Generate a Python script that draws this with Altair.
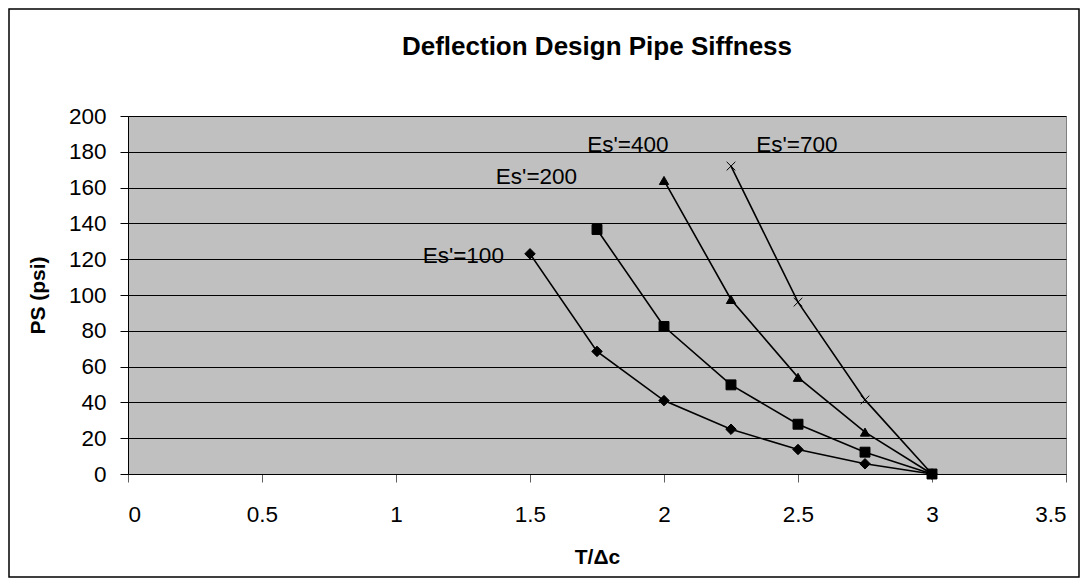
import altair as alt
import pandas as pd

# ---- data ----
x100 = [1.5, 1.75, 2.0, 2.25, 2.5, 2.75, 3.0]
y100 = [123, 68.5, 41, 25, 13.7, 5.7, 0]
x200 = [1.75, 2.0, 2.25, 2.5, 2.75, 3.0]
y200 = [136.6, 82.4, 49.8, 27.8, 12.2, 0]
x400 = [2.0, 2.25, 2.5, 2.75, 3.0]
y400 = [164, 97.5, 54, 23.4, 0]
x700 = [2.25, 2.5, 2.75, 3.0]
y700 = [172, 96, 41.4, 0]

series_names = ["Es'=100", "Es'=400", "Es'=700", "Es'=200"]
label_x = [1.251, 1.865, 2.496, 1.524]
label_y = [122, 184, 184, 166]

x_ticks = [0, 0.5, 1, 1.5, 2, 2.5, 3, 3.5]
y_ticks = list(range(0, 201, 20))

rows = []
for name, xs, ys in [("Es'=100", x100, y100), ("Es'=400", x400, y400),
                     ("Es'=700", x700, y700), ("Es'=200", x200, y200)]:
    for i, (a, b) in enumerate(zip(xs, ys)):
        rows.append({"series": name, "x": a, "y": b, "order": i})
df = pd.DataFrame(rows)
labels = pd.DataFrame({"text": series_names, "x": label_x, "y": label_y})

FONT = "Liberation Sans"
FS = 22.5

xscale = alt.Scale(domain=[0, 3.5], nice=False)
yscale = alt.Scale(domain=[0, 200], nice=False)

xaxis = alt.Axis(values=x_ticks, format="~g", grid=False, title="T/\u0394c",
                 domainColor="black", tickColor="#606060", tickSize=8,
                 labelFont=FONT, labelFontSize=FS, labelColor="black",
                 labelPadding=21, labelOverlap=False, titleFont=FONT,
                 titleFontSize=21, titleFontWeight="bold", titleColor="black",
                 titleBaseline="alphabetic", titleY=89)
yaxis = alt.Axis(values=y_ticks, grid=True, gridColor="black", gridWidth=1,
                 title="PS (psi)", domainColor="black", tickColor="black",
                 tickSize=8, labelFont=FONT, labelFontSize=FS,
                 labelColor="black", labelPadding=14, labelOverlap=False,
                 titleFont=FONT, titleFontSize=21, titleFontWeight="bold",
                 titleColor="black", titleX=-80, titleY=179)

X = alt.X("x:Q", scale=xscale, axis=xaxis)
Y = alt.Y("y:Q", scale=yscale, axis=yaxis)

base = alt.Chart(df)

lines = base.mark_line(color="black", strokeWidth=1.6).encode(
    x=X, y=Y, detail="series:N", order="order:Q",
)

shape_domain = ["Es'=100", "Es'=200", "Es'=400", "Es'=700"]
shape_range = ["diamond", "square", "triangle-up", "M-1,-1L1,1M1,-1L-1,1"]
fill_range = ["black", "black", "black", "transparent"]
size_range = [110, 75, 110, 110]

points = base.mark_point(stroke="black", strokeWidth=1, opacity=1).encode(
    x=X, y=Y,
    shape=alt.Shape("series:N", scale=alt.Scale(domain=shape_domain, range=shape_range), legend=None),
    fill=alt.Fill("series:N", scale=alt.Scale(domain=shape_domain, range=fill_range), legend=None),
    size=alt.Size("series:N", scale=alt.Scale(domain=shape_domain, range=size_range), legend=None),
)

texts = alt.Chart(labels).mark_text(font=FONT, fontSize=FS, color="black",
                                    align="center", baseline="middle").encode(
    x=X, y=Y, text="text:N",
)

frame = alt.Chart(alt.Data(values=[{"a": 1}])).mark_rect(
    filled=False, stroke="black", strokeWidth=1.5).encode(
    x=alt.value(-119), x2=alt.value(951), y=alt.value(-107), y2=alt.value(461))

chart = alt.layer(lines, points, texts, frame).properties(
    width=938, height=358,
    background="white",
    autosize=alt.AutoSizeParams(type="none"),
    padding={"left": 120, "top": 108, "right": 14, "bottom": 104},
    title=alt.TitleParams(text="Deflection Design Pipe Siffness", font=FONT,
                          fontSize=26, fontWeight="bold", color="black",
                          anchor="middle", frame="group", baseline="alphabetic",
                          offset=0, dy=73),
).configure_view(fill="#C0C0C0", stroke="#808080", strokeWidth=1)

chart.save("out.html", embed_options={"renderer": "svg", "actions": False})
